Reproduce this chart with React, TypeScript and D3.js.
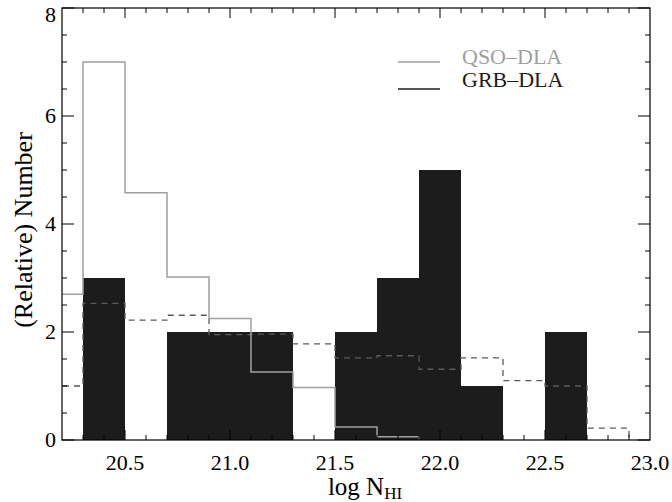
import React, { useEffect, useRef } from 'react';
import * as d3 from 'd3';

// bin width of all histograms (log N_HI)
const binWidth = 0.2;

// GRB-DLA counts, bins starting at 20.3
const grbStart = 20.3;
const grbCounts = [3, 0, 2, 2, 2, 0, 2, 3, 5, 1, 0, 2];

// QSO-DLA relative distribution (grey solid step), bins starting at 20.1
const qsoStart = 20.1;
const qsoValues = [2.7, 7.0, 4.58, 3.02, 2.25, 1.26, 0.97, 0.24, 0.06];

// dashed step curve, bins starting at 20.1
const dashStart = 20.1;
const dashValues = [1.0, 2.53, 2.22, 2.31, 1.95, 1.96, 1.78, 1.52, 1.56, 1.31, 1.52, 1.1, 1.0, 0.22];

const xTicks = [20.5, 21.0, 21.5, 22.0, 22.5, 23.0];
const yTicks = [0, 2, 4, 6, 8];

const legendItems = [
    { label: 'QSO\u2013DLA', color: '#a0a0a0' },
    { label: 'GRB\u2013DLA', color: '#1c1c1c' }
];

const App: React.FC = () => {
    const svgRef = useRef<SVGSVGElement | null>(null);

    useEffect(() => {
        const width = 672;
        const height = 502;
        const margin = { top: 8, right: 22, bottom: 62, left: 62 };
        const font = '"Liberation Serif", "Times New Roman", serif';

        const svg = d3.select(svgRef.current)
            .attr('width', width)
            .attr('height', height);
        svg.selectAll('*').remove();

        const x = d3.scaleLinear().domain([20.2, 23.0]).range([margin.left, width - margin.right]);
        const y = d3.scaleLinear().domain([0, 8]).range([height - margin.bottom, margin.top]);

        svg.append('defs').append('clipPath').attr('id', 'plot-clip')
            .append('rect')
            .attr('x', x(20.2))
            .attr('y', y(8))
            .attr('width', x(23.0) - x(20.2))
            .attr('height', y(0) - y(8));

        const plot = svg.append('g').attr('clip-path', 'url(#plot-clip)');

        // GRB bars
        plot.selectAll('rect.bar')
            .data(grbCounts.map((c, i) => ({ x0: grbStart + i * binWidth, c })).filter(d => d.c > 0))
            .enter()
            .append('rect')
            .attr('class', 'bar')
            .attr('x', d => x(d.x0))
            .attr('width', d => x(d.x0 + binWidth) - x(d.x0))
            .attr('y', d => y(d.c))
            .attr('height', d => y(0) - y(d.c))
            .attr('fill', '#1c1c1c');

        const stepPoints = (start: number, vals: number[]) => {
            const pts: [number, number][] = vals.map((v, i) => [start + i * binWidth, v]);
            pts.push([start + vals.length * binWidth, 0]);
            return pts;
        };

        const line = d3.line<[number, number]>()
            .x(d => x(d[0]))
            .y(d => y(d[1]))
            .curve(d3.curveStepAfter);

        plot.append('path')
            .attr('d', line(stepPoints(dashStart, dashValues)) || '')
            .attr('fill', 'none')
            .attr('stroke', '#5a5a5a')
            .attr('stroke-width', 1.3)
            .attr('stroke-dasharray', '6,5');

        plot.append('path')
            .attr('d', line(stepPoints(qsoStart, qsoValues)) || '')
            .attr('fill', 'none')
            .attr('stroke', '#a0a0a0')
            .attr('stroke-width', 1.5);

        // frame
        svg.append('rect')
            .attr('x', x(20.2))
            .attr('y', y(8))
            .attr('width', x(23.0) - x(20.2))
            .attr('height', y(0) - y(8))
            .attr('fill', 'none')
            .attr('stroke', '#000')
            .attr('stroke-width', 1.2);

        // ticks on all four sides
        const xMinor = d3.range(203, 230).map(v => v / 10);
        const yMinor = d3.range(0, 17).map(v => v / 2);
        const ticks = svg.append('g').attr('stroke', '#000').attr('stroke-width', 1);
        xMinor.forEach(v => {
            const major = Math.abs(v * 2 - Math.round(v * 2)) < 1e-6;
            const len = major ? 10 : 5;
            ticks.append('line').attr('x1', x(v)).attr('x2', x(v)).attr('y1', y(0)).attr('y2', y(0) - len);
            ticks.append('line').attr('x1', x(v)).attr('x2', x(v)).attr('y1', y(8)).attr('y2', y(8) + len);
        });
        yMinor.forEach(v => {
            const major = v % 2 === 0;
            const len = major ? 12 : 5;
            ticks.append('line').attr('x1', x(20.2)).attr('x2', x(20.2) + len).attr('y1', y(v)).attr('y2', y(v));
            ticks.append('line').attr('x1', x(23.0)).attr('x2', x(23.0) - len).attr('y1', y(v)).attr('y2', y(v));
        });

        // tick labels
        svg.append('g').selectAll('text')
            .data(xTicks)
            .enter()
            .append('text')
            .attr('x', d => x(d))
            .attr('y', y(0) + 30)
            .attr('text-anchor', 'middle')
            .style('font-family', font)
            .style('font-size', '22px')
            .text(d => d.toFixed(1));

        svg.append('g').selectAll('text')
            .data(yTicks)
            .enter()
            .append('text')
            .attr('x', x(20.2) - 6)
            .attr('y', d => Math.max(y(d) + 7, 22))
            .attr('text-anchor', 'end')
            .style('font-family', font)
            .style('font-size', '22px')
            .text(d => String(d));

        // axis titles
        const xt = svg.append('text')
            .attr('x', 365)
            .attr('y', 495)
            .attr('text-anchor', 'middle')
            .style('font-family', font)
            .style('font-size', '25px');
        xt.append('tspan').text('log N');
        xt.append('tspan').attr('dy', 4).style('font-size', '17px').text('HI');

        svg.append('text')
            .attr('transform', `translate(32, 230) rotate(-90)`)
            .attr('text-anchor', 'middle')
            .style('font-family', font)
            .style('font-size', '26px')
            .text('(Relative) Number');

        // legend
        const legend = svg.append('g');
        legendItems.forEach((d, i) => {
            legend.append('line')
                .attr('x1', 398).attr('x2', 440)
                .attr('y1', 62 + i * 27).attr('y2', 62 + i * 27)
                .attr('stroke', d.color)
                .attr('stroke-width', 1.5);
            legend.append('text')
                .attr('x', 462)
                .attr('y', 64 + i * 23)
                .style('font-family', font)
                .style('font-size', '22px')
                .attr('fill', d.color)
                .text(d.label);
        });
    }, []);

    return (
        <svg ref={svgRef} style={{ position: 'absolute', left: 0, top: 0 }}></svg>
    );
};

export default App;
